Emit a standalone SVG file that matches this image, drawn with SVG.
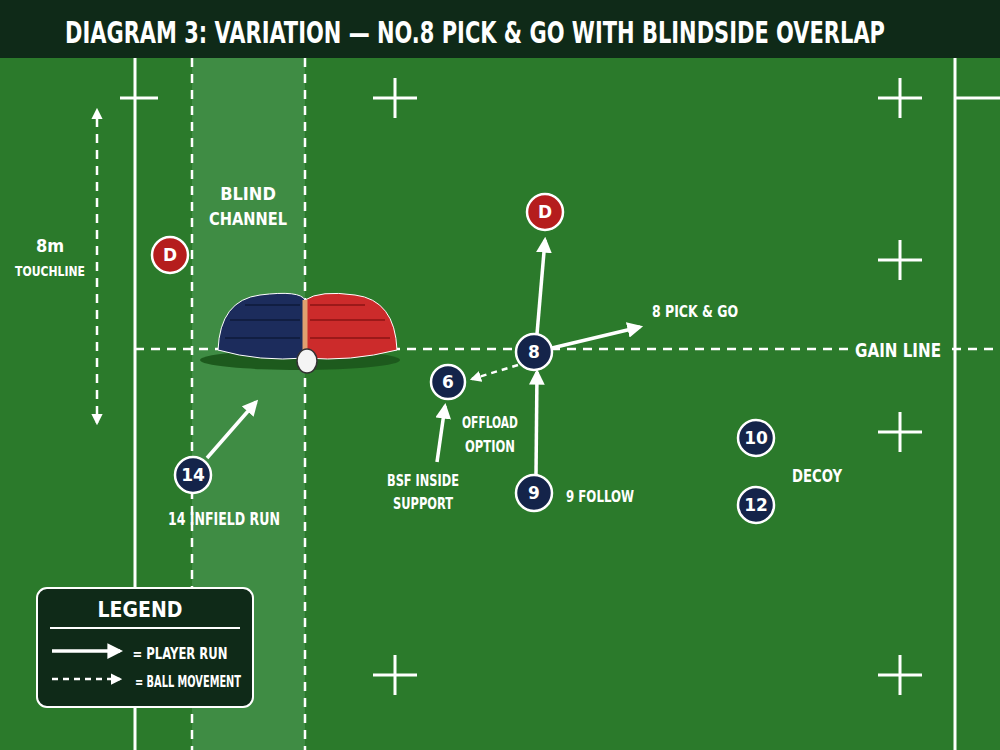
<svg xmlns="http://www.w3.org/2000/svg" width="1000" height="750" viewBox="0 0 1000 750">
<style>
.t{font-family:"DejaVu Sans Condensed","Liberation Sans Narrow","Liberation Sans",sans-serif;font-weight:bold;fill:#fff;text-anchor:middle}
.ln{stroke:#fff;stroke-width:3;fill:none}
.dl{stroke:#fff;stroke-width:2.5;stroke-dasharray:9 7;fill:none}
.run{stroke:#fff;stroke-width:3.5;fill:none;marker-end:url(#ah)}
.ball{stroke:#fff;stroke-width:2.5;stroke-dasharray:6 5;fill:none;marker-end:url(#ah)}
.p{fill:#14244a;stroke:#fff;stroke-width:2.5}
.d{fill:#b51d1d;stroke:#fff;stroke-width:2.5}
.pn{font-family:"DejaVu Sans","Liberation Sans",sans-serif;font-weight:bold;fill:#fff;text-anchor:middle;font-size:17px}
</style>
<defs>
<marker id="ah" viewBox="0 0 10 10" refX="8" refY="5" markerWidth="4.5" markerHeight="4.5" orient="auto"><path d="M0,0L10,5L0,10z" fill="#fff"/></marker>
<marker id="ah2" viewBox="0 0 10 10" refX="1" refY="5" markerWidth="4.5" markerHeight="4.5" orient="auto-start-reverse"><path d="M0,0L10,5L0,10z" fill="#fff"/></marker>
</defs>
<rect width="1000" height="750" fill="#2b7a2b"/>
<rect x="192" y="58" width="113" height="692" fill="#3f8c44"/>
<rect width="1000" height="58" fill="#0f2a18"/>
<text class="t" x="475" y="43" font-size="31" textLength="820" lengthAdjust="spacingAndGlyphs">DIAGRAM 3: VARIATION — NO.8 PICK &amp; GO WITH BLINDSIDE OVERLAP</text>
<g id="field">
<line class="ln" x1="135" y1="58" x2="135" y2="750"/>
<line class="ln" x1="955" y1="58" x2="955" y2="750"/>
<line class="ln" x1="955" y1="98" x2="1000" y2="98"/>
<line class="dl" x1="192" y1="58" x2="192" y2="750"/>
<line class="dl" x1="305" y1="58" x2="305" y2="750"/>
<line class="dl" x1="135" y1="349" x2="848" y2="349"/>
<line class="dl" x1="952" y1="349" x2="1000" y2="349"/>
<path class="ln" d="M120,98H158M120,675H158M373,98H417M395,78V118M878,98H922M900,78V118M878,260H922M900,240V280M878,432H922M900,412V452M373,675H417M395,655V695M878,675H922M900,655V695"/>
<line class="dl" x1="97" y1="118" x2="97" y2="423" stroke-dasharray="6 5" marker-start="url(#ah2)" marker-end="url(#ah)"/>
</g>
<g id="scrum">
<ellipse cx="300" cy="360" rx="100" ry="10" fill="#1d5a1d"/>
<path d="M218,350 Q220,300 260,295 Q300,290 305,300 L305,358 Q260,362 218,350z" fill="#1c2c5c" stroke="#fff" stroke-width="1"/>
<path d="M305,300 Q320,290 355,295 Q395,300 397,350 Q350,362 305,358z" fill="#cc2b2b" stroke="#fff" stroke-width="1"/>
<g stroke="#e0a070" stroke-width="5"><line x1="305" y1="300" x2="305" y2="355"/></g>
<g stroke="#0e1a3a" stroke-width="1.5" fill="none"><path d="M230,320H300M225,338H300M245,305H300"/></g>
<g stroke="#8a1515" stroke-width="1.5" fill="none"><path d="M310,320H385M310,338H390M310,305H365"/></g>
<ellipse cx="307" cy="361" rx="10" ry="12" fill="#f4f4f4" stroke="#333" stroke-width="1.5"/>
</g>
<g id="connectors">
<line class="run" x1="537" y1="334" x2="545" y2="240"/>
<line class="run" x1="552" y1="348" x2="640" y2="327"/>
<line class="ball" x1="518" y1="365" x2="472" y2="379"/>
<line class="run" x1="536" y1="475" x2="537" y2="372"/>
<line class="run" x1="437" y1="462" x2="445" y2="406"/>
<line class="run" x1="207" y1="458" x2="256" y2="402"/>
</g>
<g id="n8"><circle class="p" cx="534" cy="352" r="18"/><text class="pn" x="534" y="358">8</text></g>
<g id="n6"><circle class="p" cx="448" cy="382" r="17"/><text class="pn" x="448" y="388">6</text></g>
<g id="n9"><circle class="p" cx="534" cy="493" r="18"/><text class="pn" x="534" y="499">9</text></g>
<g id="n14"><circle class="p" cx="193" cy="475" r="18"/><text class="pn" x="193" y="481">14</text></g>
<g id="n10"><circle class="p" cx="756" cy="438" r="18"/><text class="pn" x="756" y="444">10</text></g>
<g id="n12"><circle class="p" cx="756" cy="505" r="18"/><text class="pn" x="756" y="511">12</text></g>
<g id="d1"><circle class="d" cx="545" cy="212" r="18"/><text class="pn" x="545" y="218">D</text></g>
<g id="d2"><circle class="d" cx="170" cy="255" r="18"/><text class="pn" x="170" y="261">D</text></g>
<g id="labels">
<text class="t" x="50" y="252" font-size="18">8m</text>
<text class="t" x="50" y="276" font-size="14" textLength="70" lengthAdjust="spacingAndGlyphs">TOUCHLINE</text>
<text class="t" x="248" y="200" font-size="18">BLIND</text>
<text class="t" x="248" y="225" font-size="18" textLength="78" lengthAdjust="spacingAndGlyphs">CHANNEL</text>
<text class="t" x="695" y="317" font-size="16" textLength="86" lengthAdjust="spacingAndGlyphs">8 PICK &amp; GO</text>
<text class="t" x="898" y="357" font-size="19" textLength="86" lengthAdjust="spacingAndGlyphs">GAIN LINE</text>
<text class="t" x="490" y="428" font-size="15" textLength="56" lengthAdjust="spacingAndGlyphs">OFFLOAD</text>
<text class="t" x="490" y="452" font-size="15" textLength="50" lengthAdjust="spacingAndGlyphs">OPTION</text>
<text class="t" x="423" y="486" font-size="15" textLength="72" lengthAdjust="spacingAndGlyphs">BSF INSIDE</text>
<text class="t" x="423" y="509" font-size="15" textLength="60" lengthAdjust="spacingAndGlyphs">SUPPORT</text>
<text class="t" x="600" y="502" font-size="16" textLength="68" lengthAdjust="spacingAndGlyphs">9 FOLLOW</text>
<text class="t" x="817" y="482" font-size="17" textLength="50" lengthAdjust="spacingAndGlyphs">DECOY</text>
<text class="t" x="224" y="525" font-size="17" textLength="112" lengthAdjust="spacingAndGlyphs">14 INFIELD RUN</text>
</g>
<g id="legend">
<rect x="37" y="588" width="216" height="119" rx="10" fill="#0f2a18" stroke="#fff" stroke-width="2"/>
<text class="t" x="140" y="617" font-size="21">LEGEND</text>
<line x1="50" y1="628" x2="240" y2="628" stroke="#fff" stroke-width="2"/>
<line class="run" x1="52" y1="651" x2="120" y2="651"/>
<text class="t" x="180" y="659" font-size="15" textLength="95" lengthAdjust="spacingAndGlyphs">= PLAYER RUN</text>
<line class="ball" x1="52" y1="679" x2="120" y2="679"/>
<text class="t" x="188" y="687" font-size="15" textLength="106" lengthAdjust="spacingAndGlyphs">= BALL MOVEMENT</text>
</g>
</svg>
